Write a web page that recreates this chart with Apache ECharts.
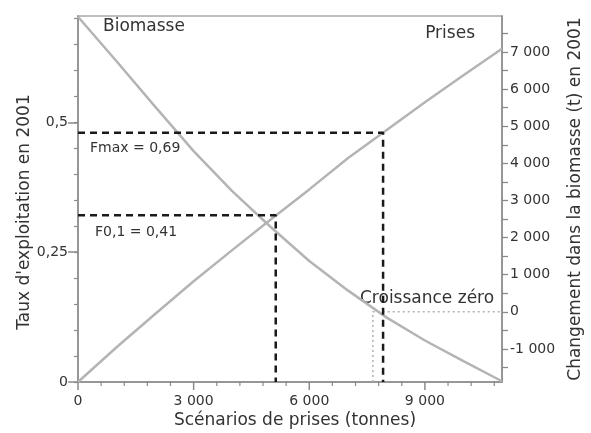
<!DOCTYPE html>
<html>
<head>
<meta charset="utf-8">
<script src="https://cdn.jsdelivr.net/npm/echarts@6/dist/echarts.min.js"></script>
<style>
  html, body { margin: 0; padding: 0; background: #fff; }
  #chart { width: 591px; height: 433px; }
</style>
</head>
<body>
<div id="chart"></div>
<script>
// Catch scenarios (tonnes)
const scenarios = [0, 1000, 2000, 3000, 4000, 5000, 6000, 7000, 8000, 9000, 10000, 11000];
// Change in biomass in 2001 (t), right axis
const biomasse = [7950, 6750, 5530, 4330, 3250, 2285, 1370, 578, -149, -772, -1326, -1870];
// Exploitation rate in 2001, left axis
const prises = [0, 0.067, 0.131, 0.194, 0.254, 0.313, 0.371, 0.431, 0.485, 0.539, 0.591, 0.642];

// Reference points: catch and exploitation rate at F0.1 and Fmax
const f01 = { catch: 5130, rate: 0.321 };
const fmax = { catch: 7915, rate: 0.480 };
// Catch giving zero biomass growth
const zeroGrowthCatch = 7650;

// Axis ranges and tick values
const xRange = [0, 11000];
const leftRange = [0, 0.705];
const rightRange = [-1890, 7970];
const xLabels = [0, 3000, 6000, 9000];
const xTicks = [0, 600, 1200, 1800, 2400, 3000, 3600, 4200, 4800, 5400, 6000, 6600, 7200, 7800, 8400, 9000, 9600, 10200, 10800];
const leftLabels = [0, 0.25, 0.5];
const leftMinorTicks = [0, 0.05, 0.1, 0.15, 0.2, 0.25, 0.3, 0.35, 0.4, 0.45, 0.5, 0.55, 0.6, 0.65, 0.7];
const rightLabels = [-1000, 0, 1000, 2000, 3000, 4000, 5000, 6000, 7000];
const rightTicks = [-1500, -1000, -500, 0, 500, 1000, 1500, 2000, 2500, 3000, 3500, 4000, 4500, 5000, 5500, 6000, 6500, 7000, 7500];

const FONT = 'DejaVu Sans';
const TEXT = '#333';
const AXIS = '#8a8a8a';
const CURVE = '#b4b4b4';

const fmtThousands = v => {
  const s = Math.abs(v).toString().replace(/\B(?=(\d{3})+(?!\d))/g, ' ');
  return (v < 0 ? '-' : '') + s;
};
const fmtDecimal = v => String(v).replace('.', ',');

const chart = echarts.init(document.getElementById('chart'), null, { renderer: 'canvas' });

const labelStyle = { color: TEXT, fontFamily: FONT, fontSize: 14 };

chart.setOption({
  animation: false,
  backgroundColor: '#fff',
  grid: {
    left: 78, right: 89, top: 16, bottom: 51,
    show: true, borderColor: '#a8a8a8', borderWidth: 1.5, backgroundColor: 'transparent'
  },
  xAxis: {
    type: 'value', min: xRange[0], max: xRange[1], position: 'bottom',
    splitLine: { show: false },
    axisLine: { onZero: false, lineStyle: { color: AXIS, width: 1.5 } },
    axisTick: { show: false },
    axisLabel: Object.assign({ customValues: xLabels, margin: 12, formatter: fmtThousands }, labelStyle)
  },
  yAxis: [
    {
      type: 'value', min: leftRange[0], max: leftRange[1], position: 'left',
      splitLine: { show: false },
      axisLine: { show: true, onZero: false, lineStyle: { color: AXIS, width: 1.5 } },
      axisTick: { show: true, customValues: leftLabels, length: 10, lineStyle: { color: AXIS, width: 1.5 } },
      axisLabel: Object.assign({ customValues: leftLabels, margin: 10, formatter: fmtDecimal }, labelStyle)
    },
    {
      type: 'value', min: rightRange[0], max: rightRange[1], position: 'right',
      splitLine: { show: false },
      axisLine: { show: true, onZero: false, lineStyle: { color: AXIS, width: 1.5 } },
      axisTick: { show: true, customValues: rightTicks, length: 6, lineStyle: { color: AXIS, width: 1.3 } },
      axisLabel: Object.assign({ customValues: rightLabels, margin: 8, formatter: fmtThousands, align: 'left' }, labelStyle)
    },
    {
      type: 'value', min: leftRange[0], max: leftRange[1], position: 'left', offset: 0,
      splitLine: { show: false },
      axisLine: { show: false, onZero: false },
      axisTick: { show: true, customValues: leftMinorTicks, length: 4, lineStyle: { color: AXIS, width: 1.2 } },
      axisLabel: { show: false }
    }
  ],
  series: [
    {
      name: 'Biomasse', type: 'line', yAxisIndex: 1, smooth: false,
      symbol: 'none', lineStyle: { color: CURVE, width: 2.5 },
      data: scenarios.map((x, i) => [x, biomasse[i]]), z: 3
    },
    {
      name: 'Prises', type: 'line', yAxisIndex: 0, smooth: false,
      symbol: 'none', lineStyle: { color: CURVE, width: 2.5 },
      data: scenarios.map((x, i) => [x, prises[i]]), z: 3
    },
    {
      name: 'Fmax', type: 'line', yAxisIndex: 0, symbol: 'none',
      lineStyle: { color: '#1a1a1a', width: 2.5, type: [7, 5] },
      data: [[0, fmax.rate], [fmax.catch, fmax.rate], [fmax.catch, leftRange[0]]], z: 4
    },
    {
      name: 'F0,1', type: 'line', yAxisIndex: 0, symbol: 'none',
      lineStyle: { color: '#1a1a1a', width: 2.5, type: [7, 5] },
      data: [[0, f01.rate], [f01.catch, f01.rate], [f01.catch, leftRange[0]]], z: 4
    },
    {
      name: 'Croissance zéro', type: 'line', yAxisIndex: 1, symbol: 'none',
      lineStyle: { color: '#b0b0b0', width: 1.5, type: [2, 3] },
      data: [[zeroGrowthCatch, rightRange[0]], [zeroGrowthCatch, 0], [xRange[1], 0]], z: 2
    },
    {
      // tick marks below the catch axis: long at labelled values, short elsewhere
      name: 'xTicks', type: 'custom', yAxisIndex: 0, clip: false, silent: true, z: 5,
      data: xTicks.map(v => [v, xLabels.includes(v) ? 1 : 0]),
      encode: { x: 0 },
      renderItem: (params, api) => {
        const p = api.coord([api.value(0), leftRange[0]]);
        const major = api.value(1) === 1;
        return {
          type: 'line',
          shape: { x1: p[0], y1: p[1] - (major ? 0 : 1), x2: p[0], y2: p[1] + (major ? 8 : 4) },
          style: { stroke: AXIS, lineWidth: major ? 1.5 : 1.2 }
        };
      }
    }
  ],
  graphic: [
    { type: 'text', left: 103, top: 18, style: { text: 'Biomasse', fill: TEXT, font: '17px "DejaVu Sans"' } },
    { type: 'text', right: 116, top: 25, style: { text: 'Prises', fill: TEXT, font: '17px "DejaVu Sans"' } },
    { type: 'text', left: 90, top: 141, style: { text: 'Fmax = 0,69', fill: TEXT, font: '14px "DejaVu Sans"' } },
    { type: 'text', left: 95, top: 225, style: { text: 'F0,1 = 0,41', fill: TEXT, font: '14px "DejaVu Sans"' } },
    { type: 'text', left: 360, top: 290, style: { text: 'Croissance zéro', fill: TEXT, font: '17px "DejaVu Sans"' } },
    { type: 'text', x: 295, y: 421, style: { text: 'Scénarios de prises (tonnes)', fill: TEXT, font: '17px "DejaVu Sans"', align: 'center', verticalAlign: 'middle' } },
    { type: 'text', x: 25, y: 212, rotation: Math.PI / 2, style: { text: "Taux d'exploitation en 2001", fill: TEXT, font: '17px "DejaVu Sans"', align: 'center', verticalAlign: 'middle' } },
    { type: 'text', x: 576, y: 199, rotation: Math.PI / 2, style: { text: 'Changement dans la biomasse (t) en 2001', fill: TEXT, font: '17px "DejaVu Sans"', align: 'center', verticalAlign: 'middle' } }
  ]
});
</script>
</body>
</html>
